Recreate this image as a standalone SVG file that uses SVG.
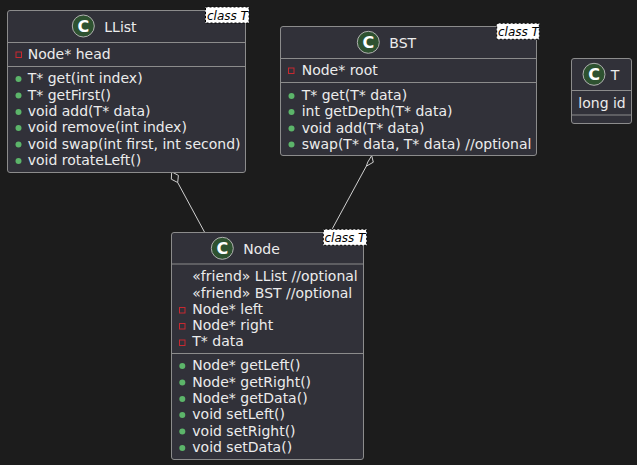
<svg xmlns="http://www.w3.org/2000/svg" width="637" height="465" viewBox="0 0 637 465">
<style>
.box{fill:#313139;stroke:#8c8c8c;stroke-width:1}
.sep{stroke:#8c8c8c;stroke-width:1}
.t{font-family:"DejaVu Sans",sans-serif;font-size:14px;fill:#ececec}
.ci{fill:#2e5230;stroke:#b0b0b0;stroke-width:1}
.cl{font-family:"DejaVu Sans",sans-serif;font-size:16px;font-weight:bold;fill:#ffffff}
.tp{fill:#ffffff;stroke:#000000;stroke-width:1;stroke-dasharray:2,2}
.tpt{font-family:"DejaVu Sans",sans-serif;font-size:12px;font-style:italic;fill:#000000}
.pr{fill:none;stroke:#c82930;stroke-width:1}
.pu{fill:#5cb56a}
.ln{fill:none;stroke:#d0d0d0;stroke-width:1}
.dm{fill:#1c1c1c;stroke:#d0d0d0;stroke-width:1}
</style>
<rect x="0" y="0" width="637" height="465" fill="#1c1c1c"/>
<g id="connectors">
<polygon class="dm" points="171.7,171.8 171.3,179.2 177.7,182.5 178.4,175.4"/>
<line class="ln" x1="177.7" y1="182.5" x2="205" y2="233"/>
<polygon class="dm" points="371.7,155.6 367.8,162 366.3,166.2 373.3,162.2"/>
<line class="ln" x1="366.3" y1="166.2" x2="330" y2="233"/>
</g>
<g id="LList">
<rect class="box" x="7.5" y="10.5" width="238" height="162" rx="2.5"/>
<line class="sep" x1="7.5" y1="42.5" x2="245.5" y2="42.5"/>
<line class="sep" x1="7.5" y1="66.5" x2="245.5" y2="66.5"/>
<circle class="ci" cx="83.3" cy="26" r="11"/>
<text class="cl" x="83.3" y="31.8" text-anchor="middle">C</text>
<text class="t" x="104.3" y="31.5">LList</text>
<rect class="pr" x="16" y="52" width="5.5" height="5.5"/>
<text class="t" x="27.7" y="59">Node* head</text>
<circle class="pu" cx="18.5" cy="79" r="3"/>
<circle class="pu" cx="18.5" cy="95.5" r="3"/>
<circle class="pu" cx="18.5" cy="112" r="3"/>
<circle class="pu" cx="18.5" cy="128" r="3"/>
<circle class="pu" cx="18.5" cy="144.5" r="3"/>
<circle class="pu" cx="18.5" cy="161" r="3"/>
<text class="t" x="27.7" y="83">T* get(int index)</text>
<text class="t" x="27.7" y="99.5">T* getFirst()</text>
<text class="t" x="27.7" y="116">void add(T* data)</text>
<text class="t" x="27.7" y="132">void remove(int index)</text>
<text class="t" x="27.7" y="148.5">void swap(int first, int second)</text>
<text class="t" x="27.7" y="165">void rotateLeft()</text>
<rect class="tp" x="205.5" y="7" width="43.5" height="16"/>
<text class="tpt" x="207" y="19.5">class T</text>
</g>
<g id="BST">
<rect class="box" x="280.5" y="26.5" width="256" height="129" rx="2.5"/>
<line class="sep" x1="280.5" y1="58.5" x2="536.5" y2="58.5"/>
<line class="sep" x1="280.5" y1="82.5" x2="536.5" y2="82.5"/>
<circle class="ci" cx="368.3" cy="42.3" r="11"/>
<text class="cl" x="368.3" y="48.1" text-anchor="middle">C</text>
<text class="t" x="389.3" y="48">BST</text>
<rect class="pr" x="288.5" y="68" width="5.5" height="5.5"/>
<text class="t" x="301.7" y="75">Node* root</text>
<circle class="pu" cx="291.5" cy="96" r="3"/>
<circle class="pu" cx="291.5" cy="112" r="3"/>
<circle class="pu" cx="291.5" cy="128.5" r="3"/>
<circle class="pu" cx="291.5" cy="144.5" r="3"/>
<text class="t" x="301.7" y="100">T* get(T* data)</text>
<text class="t" x="301.7" y="116">int getDepth(T* data)</text>
<text class="t" x="301.7" y="132.5">void add(T* data)</text>
<text class="t" x="301.7" y="148.5">swap(T* data, T* data) //optional</text>
<rect class="tp" x="496.7" y="23.3" width="42.6" height="16"/>
<text class="tpt" x="498" y="35.8">class T</text>
</g>
<g id="T">
<rect class="box" x="571.5" y="58.5" width="60" height="65" rx="2.5"/>
<line class="sep" x1="571.5" y1="90.5" x2="631.5" y2="90.5"/>
<line class="sep" x1="571.5" y1="115" x2="631.5" y2="115"/>
<circle class="ci" cx="594" cy="74.3" r="11"/>
<text class="cl" x="594" y="80.1" text-anchor="middle">C</text>
<text class="t" x="610.7" y="80">T</text>
<text class="t" x="578.3" y="108">long id</text>
</g>
<g id="Node">
<rect class="box" x="171.5" y="232.5" width="192" height="227" rx="2.5"/>
<line class="sep" x1="171.5" y1="264" x2="363.5" y2="264"/>
<line class="sep" x1="171.5" y1="353.5" x2="363.5" y2="353.5"/>
<circle class="ci" cx="222.3" cy="248.3" r="11"/>
<text class="cl" x="222.3" y="254.1" text-anchor="middle">C</text>
<text class="t" x="243.3" y="254">Node</text>
<text class="t" x="192.3" y="281">«friend» LList //optional</text>
<text class="t" x="192.3" y="297.5">«friend» BST //optional</text>
<rect class="pr" x="179.5" y="307.5" width="5.5" height="5.5"/>
<rect class="pr" x="179.5" y="323.5" width="5.5" height="5.5"/>
<rect class="pr" x="179.5" y="340" width="5.5" height="5.5"/>
<text class="t" x="192.3" y="313.5">Node* left</text>
<text class="t" x="192.3" y="330">Node* right</text>
<text class="t" x="192.3" y="346">T* data</text>
<circle class="pu" cx="182.3" cy="366" r="3"/>
<circle class="pu" cx="182.3" cy="382.5" r="3"/>
<circle class="pu" cx="182.3" cy="399" r="3"/>
<circle class="pu" cx="182.3" cy="415" r="3"/>
<circle class="pu" cx="182.3" cy="431.5" r="3"/>
<circle class="pu" cx="182.3" cy="448" r="3"/>
<text class="t" x="192.3" y="370">Node* getLeft()</text>
<text class="t" x="192.3" y="386.5">Node* getRight()</text>
<text class="t" x="192.3" y="403">Node* getData()</text>
<text class="t" x="192.3" y="419">void setLeft()</text>
<text class="t" x="192.3" y="435.5">void setRight()</text>
<text class="t" x="192.3" y="452">void setData()</text>
<rect class="tp" x="323.3" y="229.3" width="43.4" height="16"/>
<text class="tpt" x="324.5" y="241.8">class T</text>
</g>
</svg>
